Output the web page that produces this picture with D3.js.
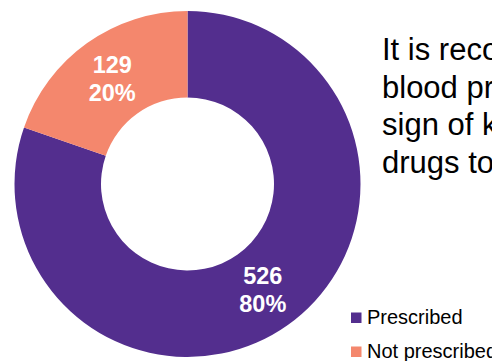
<!DOCTYPE html>
<html>
<head>
<meta charset="utf-8">
<script src="https://cdn.jsdelivr.net/npm/d3@7"></script>
<style>
  html, body { margin: 0; padding: 0; background: #fff; overflow: hidden; }
  svg { display: block; font-family: "Liberation Sans", Arial, sans-serif; }
</style>
</head>
<body>
<svg id="chart" width="492" height="361"></svg>
<script>
// Patients prescribed blood-pressure drugs
const categories = ["Prescribed", "Not prescribed"];
const counts = [526, 129];
const colors = ["#532E8E", "#F4876D"];
const noteLines = [
  "It is recommended that",
  "blood pressure is",
  "sign of kidney",
  "drugs to"
];

const svg = d3.select("#chart");
const cx = 187.5, cy = 184, outerR = 173, innerR = 86.5;

const total = d3.sum(counts);
const data = categories.map((c, i) => ({ category: c, value: counts[i], color: colors[i] }));

const pie = d3.pie().value(d => d.value).sort(null);
const arc = d3.arc().innerRadius(innerR).outerRadius(outerR);

const g = svg.append("g").attr("transform", `translate(${cx},${cy})`);
const arcs = pie(data);

g.selectAll("path.slice")
  .data(arcs)
  .join("path")
  .attr("class", "slice")
  .attr("d", arc)
  .attr("fill", d => d.data.color);

// value + percentage labels at each slice centroid
const pct = d3.format(".0%");
const labels = g.selectAll("text.label")
  .data(arcs)
  .join("text")
  .attr("class", "label")
  .attr("text-anchor", "middle")
  .attr("fill", "#fff")
  .attr("font-weight", "bold")
  .attr("font-size", 23.5)
  .attr("transform", d => `translate(${arc.centroid(d)})`);

labels.append("tspan")
  .attr("x", 0).attr("y", -5.5)
  .text(d => d.data.value);
labels.append("tspan")
  .attr("x", 0).attr("y", 22.5)
  .text(d => pct(d.data.value / total));

// explanatory note to the right of the chart
const note = svg.append("text")
  .attr("x", 382)
  .attr("font-size", 31)
  .attr("fill", "#000");
noteLines.forEach((line, i) => {
  note.append("tspan")
    .attr("x", 382)
    .attr("y", 60 + i * 37.7)
    .text(line);
});

// legend
const legend = svg.append("g").attr("transform", "translate(351,312.5)");
const items = legend.selectAll("g.item")
  .data(data)
  .join("g")
  .attr("class", "item")
  .attr("transform", (d, i) => `translate(0,${i * 34})`);
items.append("rect")
  .attr("width", 10.5).attr("height", 10.5)
  .attr("fill", d => d.color);
items.append("text")
  .attr("x", 16)
  .attr("y", 11.5)
  .attr("font-size", 20)
  .attr("fill", "#000")
  .text(d => d.category);
</script>
</body>
</html>
